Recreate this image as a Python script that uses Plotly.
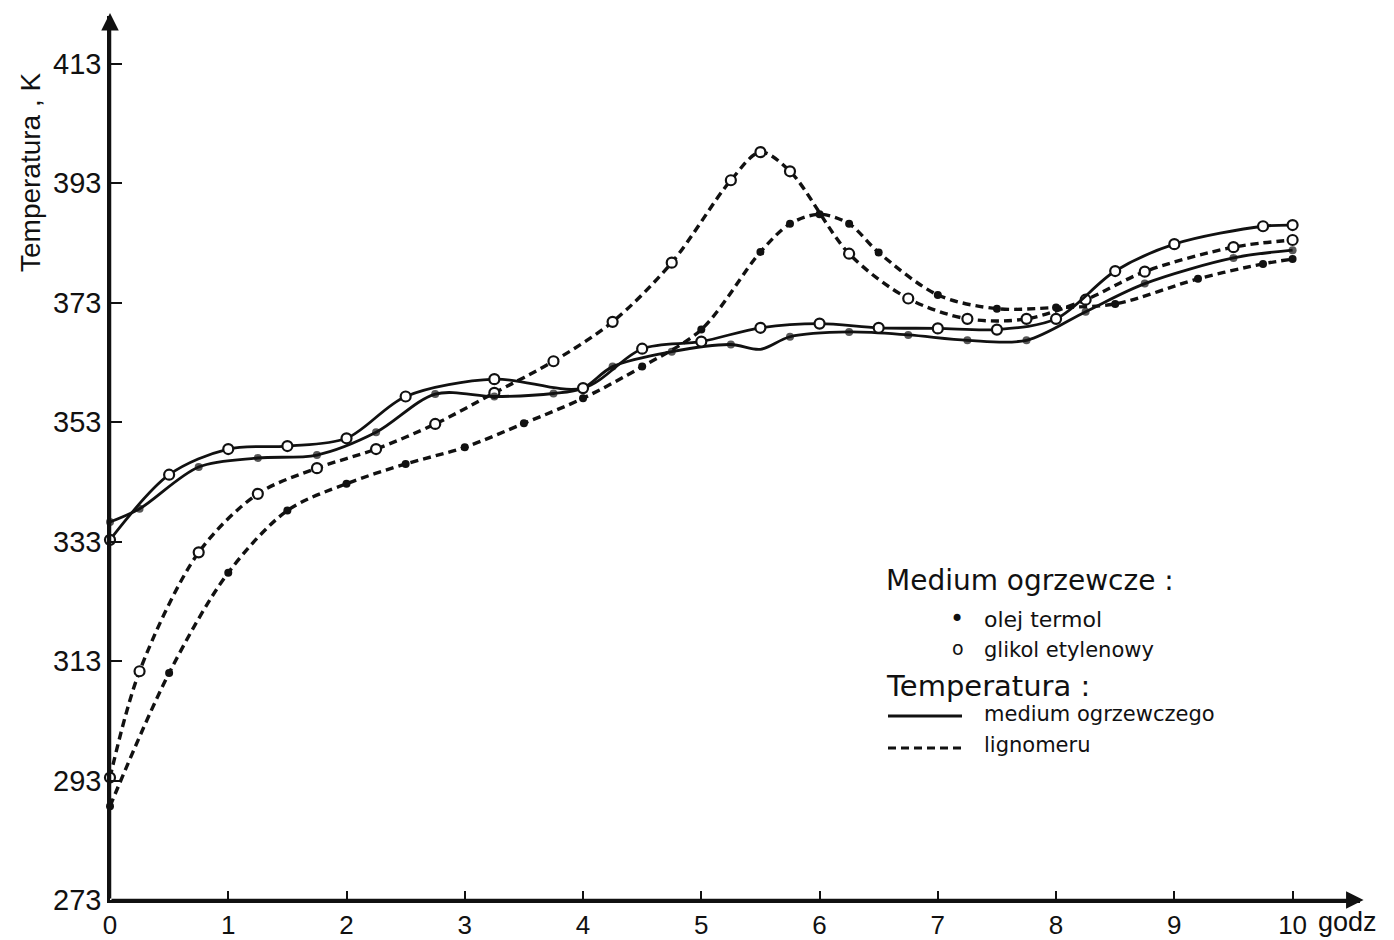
import plotly.graph_objects as go

# ---------------- data (hours, K) ----------------
olej_med_x = [0, 0.25, 0.75, 1.25, 1.75, 2.25, 2.75, 3.25, 3.75, 4.0, 4.25, 4.75, 5.25, 5.5, 5.75,
              6.25, 6.75, 7.25, 7.75, 8.25, 8.75, 9.5, 10]
olej_med_y = [336.3, 338.5, 345.5, 347.0, 347.5, 351.3, 357.7, 357.3, 357.8, 358.7, 362.3, 364.8, 366.0, 365.2, 367.3,
              368.1, 367.6, 366.7, 366.7, 371.5, 376.2, 380.5, 381.8]
olej_med_marked = [1, 1, 1, 1, 1, 1, 1, 1, 1, 0, 1, 1, 1, 0, 1,
                   1, 1, 1, 1, 1, 1, 1, 1]

glikol_med_x = [0, 0.5, 1, 1.5, 2, 2.5, 3.25, 4, 4.5, 5, 5.5, 6, 6.5, 7, 7.5, 8, 8.5, 9, 9.75, 10]
glikol_med_y = [333.3, 344.2, 348.5, 349.0, 350.3, 357.3, 360.2, 358.7, 365.3, 366.5, 368.8, 369.5, 368.8,
                368.7, 368.5, 370.3, 378.3, 382.8, 385.8, 386.0]

olej_lig_x = [0, 0.5, 1, 1.5, 2, 2.5, 3, 3.5, 4, 4.5, 5, 5.5, 5.75, 6, 6.25, 6.5, 7, 7.5, 8, 8.5, 9.2, 9.75, 10]
olej_lig_y = [288.7, 311.0, 327.8, 338.2, 342.7, 346.0, 348.8, 352.8, 357.0, 362.3, 368.5, 381.5, 386.2, 387.8,
              386.2, 381.4, 374.3, 372.0, 372.2, 372.8, 377.0, 379.5, 380.3]

glikol_lig_x = [0, 0.25, 0.75, 1.25, 1.75, 2.25, 2.75, 3.25, 3.75, 4.25, 4.75, 5.25, 5.5, 5.75, 6.25, 6.75,
                7.25, 7.75, 8.25, 8.75, 9.5, 10]
glikol_lig_y = [293.5, 311.3, 331.2, 341.0, 345.3, 348.5, 352.7, 357.9, 363.2, 369.8, 379.7, 393.5, 398.2, 395.0,
                381.2, 373.7, 370.3, 370.3, 373.5, 378.2, 382.3, 383.5]

x_ticks = [0, 1, 2, 3, 4, 5, 6, 7, 8, 9, 10]
y_ticks = [273, 293, 313, 333, 353, 373, 393, 413]

FONT = "Liberation Sans"
BLACK = "#111111"

fig = go.Figure()

def add_series(xs, ys, filled, dashed, sizes=None):
    marker = dict(
        symbol="circle",
        size=sizes if sizes is not None else (8 if filled else 10),
        color=BLACK if filled else "white",
        line=dict(color=BLACK, width=0 if filled else 2.2),
    )
    fig.add_trace(go.Scatter(
        x=xs, y=ys, mode="lines+markers",
        line=dict(color=BLACK, width=3.4 if dashed else 2.8, shape="spline", smoothing=0.9,
                  dash="8px,5px" if dashed else "solid"),
        marker=marker, showlegend=False, cliponaxis=False,
    ))

add_series(olej_lig_x, olej_lig_y, True, True)
add_series(glikol_lig_x, glikol_lig_y, False, True)
add_series(olej_med_x, olej_med_y, True, False, sizes=[8 if m else 0 for m in olej_med_marked])
add_series(glikol_med_x, glikol_med_y, False, False)

# plot area geometry (pixels)
L, R, T, B = 110, 34, 16, 40
W, H = 1394 - L - R, 940 - T - B
def px(x):
    return (x - L) / W
def py(y):
    return (940 - B - y) / H

annotations = []
# axis arrows
annotations.append(dict(x=0, y=421.5, ax=0, ay=273, xref="x", yref="y", axref="x", ayref="y",
                        showarrow=True, arrowhead=2, arrowsize=1.4, arrowwidth=2.5, arrowcolor=BLACK, text=""))
annotations.append(dict(x=10.6, y=273, ax=0, ay=273, xref="x", yref="y", axref="x", ayref="y",
                        showarrow=True, arrowhead=2, arrowsize=1.4, arrowwidth=2.5, arrowcolor=BLACK, text=""))
# axis titles
annotations.append(dict(x=px(30), y=py(172), xref="paper", yref="paper", text="Temperatura , K",
                        textangle=-90, xanchor="center", yanchor="middle", showarrow=False,
                        font=dict(family=FONT, size=28, color=BLACK)))
annotations.append(dict(x=px(1316), y=py(922), xref="paper", yref="paper", text="godz", xanchor="left",
                        yanchor="middle", showarrow=False, font=dict(family=FONT, size=27, color=BLACK)))
# legend
LEG_FONT = "DejaVu Sans"
def txt(x, y, s, size):
    annotations.append(dict(x=px(x), y=py(y), xref="paper", yref="paper", text=s, xanchor="left",
                            yanchor="middle", showarrow=False, font=dict(family=LEG_FONT, size=size, color=BLACK)))
txt(884, 580, "Medium ogrzewcze :", 28)
txt(948, 619, "•", 24)
txt(982, 619, "olej termol", 22)
txt(950, 648, "o", 19)
txt(982, 650, "glikol etylenowy", 21)
txt(884, 686, "Temperatura :", 29)
txt(982, 714, "medium ogrzewczego", 21)
txt(982, 745, "lignomeru", 21)

shapes = [
    dict(type="line", xref="paper", yref="paper", x0=px(888), x1=px(962), y0=py(716), y1=py(716),
         line=dict(color=BLACK, width=2.8)),
    dict(type="line", xref="paper", yref="paper", x0=px(888), x1=px(962), y0=py(748), y1=py(748),
         line=dict(color=BLACK, width=3.2, dash="8px,5px")),
]

fig.update_layout(
    width=1394, height=940,
    margin=dict(l=L, r=R, t=T, b=B, autoexpand=False),
    paper_bgcolor="white", plot_bgcolor="white",
    annotations=annotations, shapes=shapes,
    font=dict(family=FONT, color=BLACK),
    xaxis=dict(range=[0, 10.57], tickvals=x_ticks, ticktext=[str(v) for v in x_ticks],
               ticks="inside", ticklen=9, tickwidth=2, tickcolor=BLACK, automargin=False,
               showline=True, linecolor=BLACK, linewidth=2.6, showgrid=False, zeroline=False,
               tickfont=dict(family=FONT, size=26, color=BLACK)),
    yaxis=dict(range=[273, 421], tickvals=y_ticks, ticktext=[str(v) for v in y_ticks],
               ticks="inside", ticklen=12, tickwidth=2, tickcolor=BLACK, automargin=False,
               showline=True, linecolor=BLACK, linewidth=2.6, showgrid=False, zeroline=False,
               tickfont=dict(family=FONT, size=29, color=BLACK)),
)

fig.write_html("out.html")
